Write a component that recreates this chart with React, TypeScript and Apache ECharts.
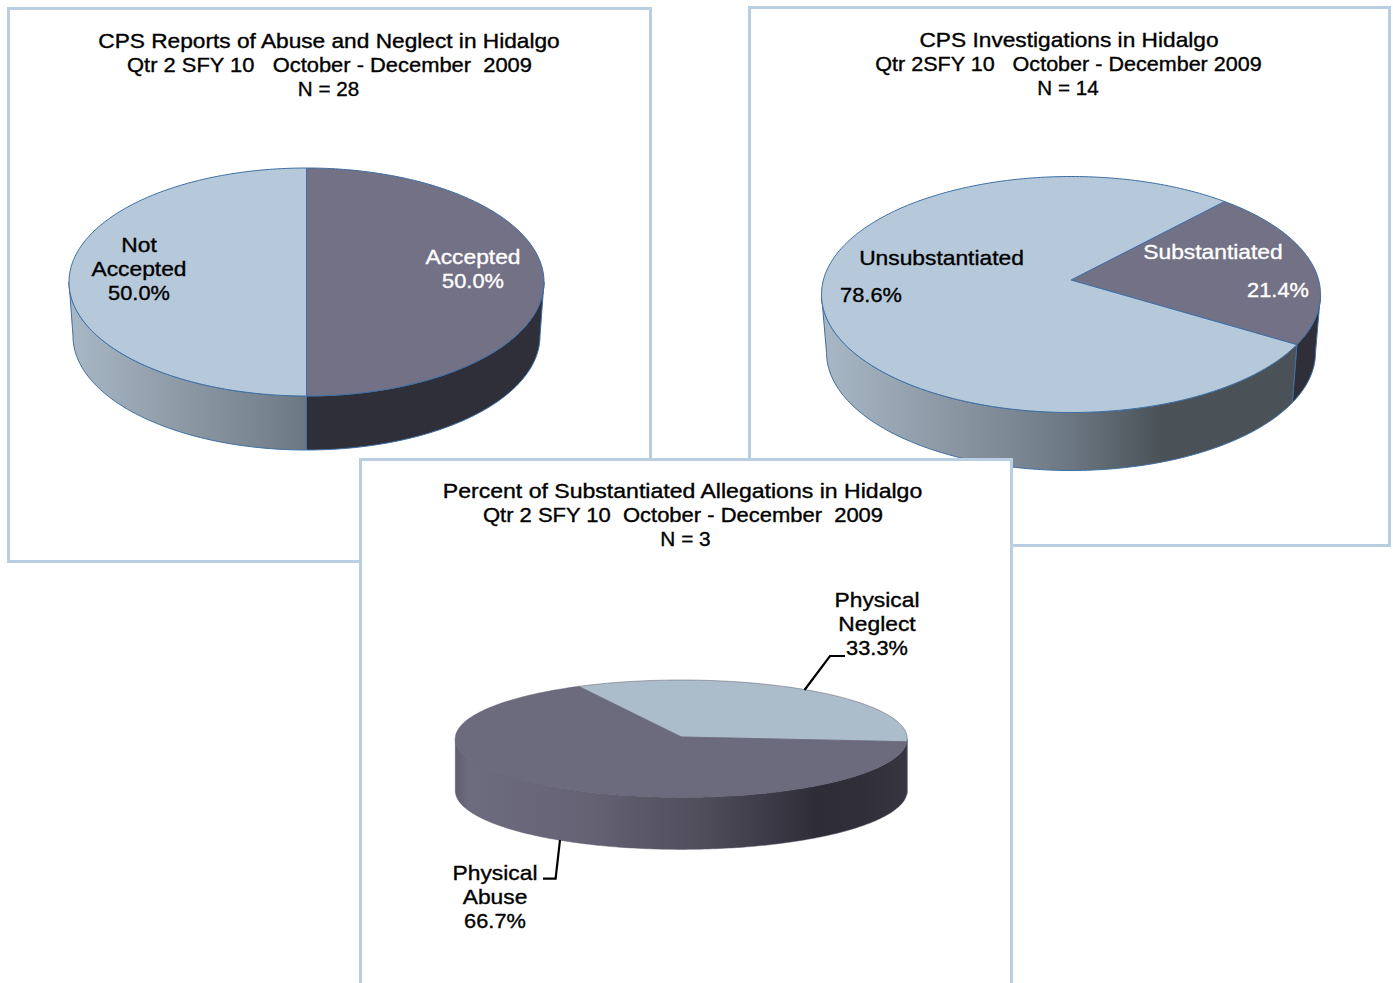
import React, { useEffect, useRef } from "react";
import * as echarts from "echarts";

// ---- Data ----
const reportCategories = ["Accepted", "Not\nAccepted"];
const reportCounts = [14, 14];
const investigationCategories = ["Substantiated", "Unsubstantiated"];
const investigationCounts = [3, 11];
const allegationCategories = ["Physical\nNeglect", "Physical\nAbuse"];
const allegationCounts = [1, 2];

const reportTitle = ["CPS Reports of Abuse and Neglect in Hidalgo", "Qtr 2 SFY 10   October - December  2009", "N = 28"];
const investigationTitle = ["CPS Investigations in Hidalgo", "Qtr 2SFY 10   October - December 2009", "N = 14"];
const allegationTitle = ["Percent of Substantiated Allegations in Hidalgo", "Qtr 2 SFY 10  October - December  2009", "N = 3"];

// ---- Styles and layout ----
const FONT = "'Liberation Sans', Arial, sans-serif";
const BORDER = "#b9cee0";
const TEXT_SIZE = 20;
const LINE = 24;
const NAME_STRETCH = 1.14;
const PCT_STRETCH = 1.09;
const TEXT_WEIGHT = 0.35;

type Pie = {
  categories: string[];
  values: number[];
  title: string[];
  titleLayout: [number, number, number][]; // centre x, centre y, horizontal stretch
  panel: [number, number, number, number];
  cx: number; cy: number; rx: number; ry: number;
  apexY: number;
  depth: number; inset: number;
  startDeg: number;
  tops: string[];
  walls: [number, string][][];
  outline: string;
  outlineWidth: number;
  labels: { name: [number, number]; pct: [number, number]; color: string }[];
  leaders?: [number, number][][];
  z: number;
};

const LIGHT_WALL: [number, string][] = [[0, "#a9b8c6"], [0.38, "#7c8893"], [0.5, "#6b7781"], [0.68, "#4a5258"], [1, "#4a5258"]];
const DARK_WALL: [number, string][] = [[0, "#2f2f39"], [1, "#2f2f39"]];
const ABUSE_WALL: [number, string][] = [[0, "#5f5e6f"], [0.03, "#6d6b7e"], [0.3, "#646273"], [0.55, "#4f4d5a"], [0.72, "#383743"], [0.8, "#2d2c37"], [0.9, "#2f2e39"], [1, "#363540"]];

const pies: Pie[] = [
  {
    categories: reportCategories, values: reportCounts, title: reportTitle,
    titleLayout: [[329, 41, 1.135], [329.5, 65, 1.095], [328.5, 89, 1.03]],
    panel: [8.5, 8.5, 642, 553],
    cx: 306.5, cy: 282, rx: 237.5, ry: 114, apexY: 282, depth: 54, inset: 4,
    startDeg: 0,
    tops: ["#737186", "#b6c9da"],
    walls: [DARK_WALL, LIGHT_WALL],
    outline: "#3f6fa3", outlineWidth: 1,
    labels: [
      { name: [473, 257], pct: [473, 281], color: "#ffffff" },
      { name: [139, 257], pct: [139, 293], color: "#000000" },
    ],
    z: 2,
  },
  {
    categories: investigationCategories, values: investigationCounts, title: investigationTitle,
    titleLayout: [[1069, 40, 1.136], [1068.5, 64, 1.078], [1068, 88, 1.03]],
    panel: [749.5, 7.5, 640, 538],
    cx: 1071, cy: 294.5, rx: 249.5, ry: 118, apexY: 280, depth: 58, inset: 5,
    startDeg: 38,
    tops: ["#737186", "#b6c9da"],
    walls: [DARK_WALL, LIGHT_WALL],
    outline: "#3f6fa3", outlineWidth: 1,
    labels: [
      { name: [1213, 252], pct: [1278, 290], color: "#ffffff" },
      { name: [941.5, 258], pct: [871, 295], color: "#000000" },
    ],
    z: 4,
  },
  {
    categories: allegationCategories, values: allegationCounts, title: allegationTitle,
    titleLayout: [[682.5, 491, 1.154], [683, 515, 1.099], [685.5, 539, 1.04]],
    panel: [360.5, 459.5, 651, 560],
    cx: 681.3, cy: 738.7, rx: 226, ry: 58.7, apexY: 737, depth: 52, inset: 0,
    startDeg: -27,
    tops: ["#abbccb", "#6c6a7d"],
    walls: [[[0, "#abbccb"], [1, "#abbccb"]], ABUSE_WALL],
    outline: "#5e5d6e", outlineWidth: 0.5,
    labels: [
      { name: [877, 612], pct: [877, 648], color: "#000000" },
      { name: [495, 885], pct: [495, 921], color: "#000000" },
    ],
    leaders: [
      [[804.5, 690], [830, 656], [845, 656]],
      [[560, 840], [555.6, 878.6], [543, 878.6]],
    ],
    z: 6,
  },
];

const rad = (d: number) => (d * Math.PI) / 180;
// degrees measured clockwise from 12 o'clock
const onEllipse = (cx: number, cy: number, rx: number, ry: number, deg: number): [number, number] => [
  cx + rx * Math.sin(rad(deg)),
  cy - ry * Math.cos(rad(deg)),
];
const arc = (cx: number, cy: number, rx: number, ry: number, a: number, b: number) => {
  const pts: [number, number][] = [];
  const n = Math.max(2, Math.ceil(Math.abs(b - a)));
  for (let i = 0; i <= n; i++) pts.push(onEllipse(cx, cy, rx, ry, a + ((b - a) * i) / n));
  return pts;
};

function makeSeries(p: Pie): any {
  const total = p.values.reduce((s, v) => s + v, 0);
  const ranges: [number, number][] = [];
  let cursor = p.startDeg;
  p.values.forEach((v) => {
    ranges.push([cursor, cursor + (v / total) * 360]);
    cursor += (v / total) * 360;
  });
  return {
    type: "custom",
    coordinateSystem: "none",
    z: p.z,
    silent: true,
    data: p.values.map((v, i) => ({ name: p.categories[i], value: v })),
    renderItem: (params: any) => {
      const i = params.dataIndex;
      const [a, b] = ranges[i];
      const children: any[] = [];
      // visible wall = the part of the arc within the front half (90..270 degrees)
      for (const shift of [0, 360, -360]) {
        const lo = Math.max(a + shift, 90);
        const hi = Math.min(b + shift, 270);
        if (hi > lo) {
          const top = arc(p.cx, p.cy, p.rx, p.ry, lo, hi);
          const bottom = arc(p.cx, p.cy + p.depth, p.rx - p.inset, p.ry, hi, lo);
          children.push({
            type: "polygon",
            z2: 1,
            shape: { points: [...top, ...bottom] },
            style: {
              fill: {
                type: "linear", global: true,
                x: p.cx - p.rx, y: 0, x2: p.cx + p.rx, y2: 0,
                colorStops: p.walls[i].map(([offset, color]) => ({ offset, color })),
              },
              stroke: p.outline, lineWidth: p.outlineWidth, lineJoin: "round",
            },
          });
        }
      }
      children.push({
        type: "polygon",
        z2: 2,
        shape: { points: [[p.cx, p.apexY], ...arc(p.cx, p.cy, p.rx, p.ry, a, b)] },
        style: { fill: p.tops[i], stroke: p.outline, lineWidth: p.outlineWidth, lineJoin: "round" },
      });
      const lab = p.labels[i];
      const pct = ((p.values[i] / total) * 100).toFixed(1) + "%";
      const textStyle = {
        fontFamily: FONT, fontSize: TEXT_SIZE, lineHeight: LINE, fill: lab.color,
        stroke: lab.color, lineWidth: TEXT_WEIGHT, align: "center", verticalAlign: "middle",
      };
      children.push({ type: "text", z2: 5, x: lab.name[0], y: lab.name[1], scaleX: NAME_STRETCH, style: { ...textStyle, text: p.categories[i] } });
      children.push({ type: "text", z2: 5, x: lab.pct[0], y: lab.pct[1], scaleX: PCT_STRETCH, style: { ...textStyle, text: pct } });
      if (p.leaders) {
        children.push({
          type: "polyline", z2: 4,
          shape: { points: p.leaders[i] },
          style: { stroke: "#000000", lineWidth: 2.2, fill: "none" },
        });
      }
      return { type: "group", children };
    },
  };
}

export default function App() {
  const ref = useRef<HTMLDivElement>(null);
  useEffect(() => {
    const chart = echarts.init(ref.current!, undefined, { renderer: "svg" });
    const panels = pies.map((p) => ({
      type: "rect",
      z: p.z - 1,
      shape: { x: p.panel[0], y: p.panel[1], width: p.panel[2], height: p.panel[3] },
      style: { fill: "#ffffff", stroke: BORDER, lineWidth: 3 },
      silent: true,
    }));
    const titleLines = pies.flatMap((p) =>
      p.title.map((line, i) => ({
        type: "text",
        z: 20,
        x: p.titleLayout[i][0],
        y: p.titleLayout[i][1],
        scaleX: p.titleLayout[i][2],
        silent: true,
        style: {
          text: line, fontFamily: FONT, fontSize: TEXT_SIZE, fill: "#000000",
          stroke: "#000000", lineWidth: TEXT_WEIGHT, align: "center", verticalAlign: "middle",
        },
      })),
    );
    chart.setOption({
      animation: false,
      backgroundColor: "#ffffff",
      graphic: { elements: [...panels, ...titleLines] },
      series: pies.map(makeSeries),
    });
    return () => chart.dispose();
  }, []);
  return <div ref={ref} style={{ position: "absolute", left: 0, top: 0, width: 1393, height: 983 }} />;
}
